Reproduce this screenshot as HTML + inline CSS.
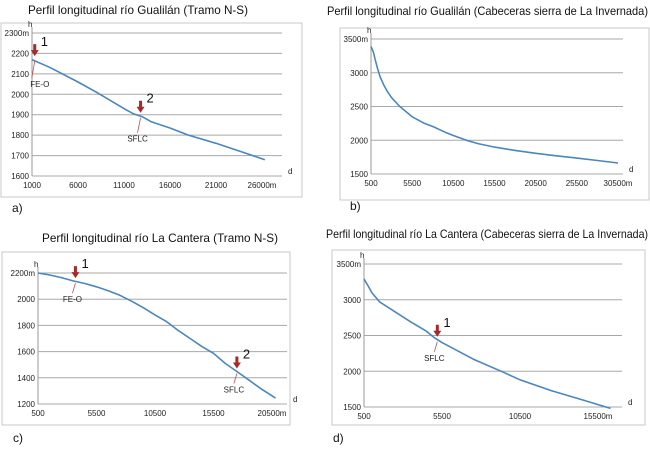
<!DOCTYPE html>
<html><head><meta charset="utf-8"><style>
body{margin:0;background:#fff;}
svg{display:block;font-family:"Liberation Sans",sans-serif;}
.tk{font-size:8px;fill:#222;}
.ti{font-size:12px;fill:#111;}
</style></head><body>
<svg id="s" width="650" height="449" viewBox="0 0 650 449"></svg>
<script>
// Panel a data
const aD=[1000,3000,6000,8000,11000,12000,13000,14000,16000,18000,21000,24000,26300];
const aH=[2170,2130,2060,2010,1930,1905,1890,1865,1835,1800,1760,1715,1680];
const aXT=[1000,6000,11000,16000,21000,26000];
const aYT=[1600,1700,1800,1900,2000,2100,2200,2300];
// Panel b data
const bD=[500,800,1000,1300,1600,2000,2500,3000,4000,5500,7000,8000,9500,10500,12100,13500,15500,18000,20500,23000,25500,28000,30500];
const bH=[3390,3300,3200,3060,2940,2830,2720,2630,2500,2347,2250,2204,2120,2070,2000,1950,1898,1850,1806,1770,1735,1700,1663];
const bXT=[500,5500,10500,15500,20500,25500,30500];
const bYT=[1500,2000,2500,3000,3500];
// Panel c data
const cD=[500,1500,2500,3500,4500,5500,6500,7500,8500,9500,10500,11500,12500,13500,14500,15500,16500,17500,18500,19500,20800];
const cH=[2200,2185,2165,2140,2120,2095,2065,2030,1985,1935,1880,1828,1760,1700,1640,1587,1510,1448,1385,1320,1245];
const cXT=[500,5500,10500,15500,20500];
const cYT=[1200,1400,1600,1800,2000,2200];
// Panel d data
const dD=[500,800,1000,1500,2500,3500,4500,5000,5500,7500,9500,10500,12500,14500,16300];
const dH=[3290,3180,3100,2970,2830,2690,2560,2470,2400,2170,1980,1880,1730,1600,1480];
const dXT=[500,5500,10500,15500];
const dYT=[1500,2000,2500,3000,3500];

const NS="http://www.w3.org/2000/svg",S=document.getElementById('s');
function el(t,a,txt){const e=document.createElementNS(NS,t);for(const k in a)e.setAttribute(k,a[k]);if(txt!=null)e.textContent=txt;S.appendChild(e);return e;}
function panel(p){
  const sx=v=>p.x0+(v-p.d0)/(p.d1-p.d0)*(p.x1-p.x0);
  const sy=v=>p.y0+(v-p.h0)/(p.h1-p.h0)*(p.y1-p.y0);
  const b=el('rect',{x:p.box[0],y:p.box[1],width:p.box[2],height:p.box[3],fill:'#fff',stroke:'#c8c8c8'});
  
  
  const t=el('text',{x:p.tx,y:p.ty,class:'ti',textLength:p.tw,lengthAdjust:'spacingAndGlyphs'},p.title);
  
  
  p.yt.forEach((v,i)=>{
    const g=el('line',{x1:p.x0,x2:p.gx,y1:sy(v),y2:sy(v),stroke:'#a8a8a8','stroke-width':1});
    
    
    const l=el('text',{x:p.x0-3,y:sy(v)+3,class:'tk','text-anchor':'end'},v+(i==p.yt.length-1?'m':''));
    
    
  });
  const ax=el('line',{x1:p.x0,x2:p.x0,y1:sy(p.yt[0]),y2:sy(p.yt[p.yt.length-1])-6,stroke:'#999'});
  
  
  p.xt.forEach((v,i)=>{
    const l=el('text',{x:sx(v),y:sy(p.yt[0])+12,class:'tk','text-anchor':'middle'},v+(i==p.xt.length-1?'m':''));
    
    
  });
  const h=el('text',{x:p.x0-4,y:sy(p.yt[p.yt.length-1])-6,class:'tk','font-size':'7'},'h');
  
  
  const d=el('text',{x:p.gx+6,y:sy(p.yt[0])-2,class:'tk'},'d');
  
  
  const pts=p.D.map((v,i)=>sx(v).toFixed(1)+','+sy(p.H[i]).toFixed(1)).join(' ');
  const ln=el('polyline',{points:pts,fill:'none',stroke:'#4a86c0','stroke-width':1.6,'stroke-linejoin':'round'});
  
  
  (p.marks||[]).forEach(m=>{
    const X=sx(m.d),Y=sy(m.h);
    const ar=el('path',{d:`M${X-1.5},${Y-15}h3v6h2.5l-4,6l-4,-6h2.5z`,fill:'#a52a2a'});
    
    
    const nm=el('text',{x:X+6,y:Y-13,'font-size':'13',fill:'#111'},m.num);
    
    
    const off=m.off||21;
    const pt=el('line',{x1:X,y1:Y+2,x2:X-3,y2:Y+off-9,stroke:'#c05050','stroke-width':0.8});
    
    
    const lb=el('text',{x:X-3+(m.dx||0),y:Y+off,class:'tk','text-anchor':'middle','font-size':'8'},m.lab);
    
    
  });
  const pl=el('text',{x:p.lx,y:p.ly,'font-size':'12',fill:'#111'},p.letter);
  
  
}
panel({n:'panel-a',box:[1,23,301,174],x0:32,x1:78,d0:1000,d1:6000,gx:282,y0:176,y1:33,h0:1600,h1:2300,
 D:aD,H:aH,xt:aXT,yt:aYT,title:'Perfil longitudinal río Gualilán (Tramo N-S)',tx:28,ty:14,tw:220,
 marks:[{d:1300,h:2172,num:'1',lab:'FE-O',off:28,dx:8},{d:12800,h:1895,num:'2',lab:'SFLC',off:26}],letter:'a)',lx:12,ly:212});
panel({n:'panel-b',box:[340,28,309,172],x0:371,x1:618,d0:500,d1:30500,gx:623,y0:174,y1:39,h0:1500,h1:3500,
 D:bD,H:bH,xt:bXT,yt:bYT,title:'Perfil longitudinal río Gualilán (Cabeceras sierra de La Invernada)',tx:327,ty:15,tw:321,letter:'b)',lx:350,ly:210});
panel({n:'panel-c',box:[2,252,288,173],x0:38,x1:272,d0:500,d1:20500,gx:287,y0:404,y1:273,h0:1200,h1:2200,
 D:cD,H:cH,xt:cXT,yt:cYT,title:'Perfil longitudinal río La Cantera (Tramo N-S)',tx:42,ty:242,tw:236,
 marks:[{d:3700,h:2138,num:'1',lab:'FE-O'},{d:17500,h:1448,num:'2',lab:'SFLC'}],letter:'c)',lx:13,ly:442});
panel({n:'panel-d',box:[332,250,313,175],x0:364,x1:598,d0:500,d1:15500,gx:622,y0:407,y1:264,h0:1500,h1:3500,
 D:dD,H:dH,xt:dXT,yt:dYT,title:'Perfil longitudinal río La Cantera (Cabeceras sierra de La Invernada)',tx:326,ty:238,tw:322,
 marks:[{d:5200,h:2440,num:'1',lab:'SFLC'}],letter:'d)',lx:333,ly:442});
</script>
</body></html>
